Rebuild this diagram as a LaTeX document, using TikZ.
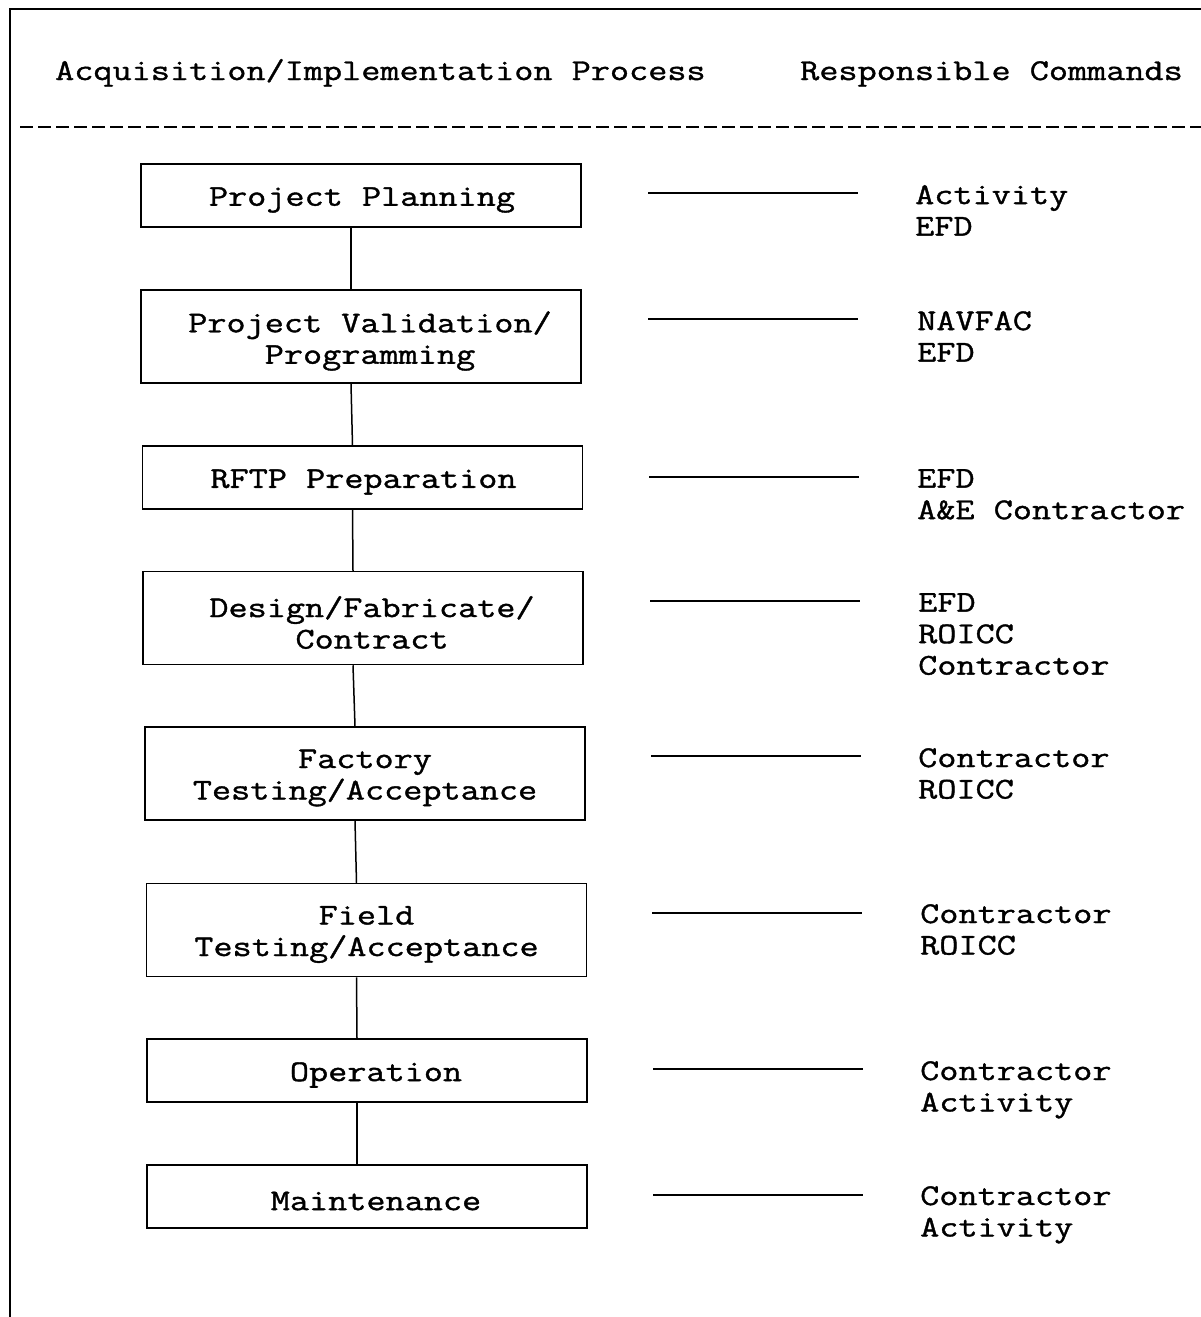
\documentclass[tikz,border=0pt]{standalone}
\usepackage{fontspec}
\newfontfamily\cour[FakeStretch=1.23, FakeBold=1.2]{Latin Modern Mono}
\begin{document}
\begin{tikzpicture}[x=1pt,y=-1pt,
  every node/.style={font=\cour\fontsize{30.2}{31.5}\selectfont, inner sep=0pt},
  procbox/.style={draw, line width=1.5pt, minimum width=440pt},
  onebox/.style={procbox, minimum height=63pt},
  twobox/.style={procbox, minimum height=93pt},
  boxtext/.style n args={2}{label={[align=center, yshift=-4.5pt, xshift=#2]center:{#1}}},
  resp/.style={anchor=north west, align=left},
  link/.style={line width=1.5pt},
  tie/.style={line width=1.5pt}]
\useasboundingbox (0,0) rectangle (1201,1317);
% frame
\draw[line width=2pt] (1201,9) -- (10,9) -- (10,1317);
% header
\node[anchor=base west] (h1) at (55,80) {Acquisition/Implementation Process};
\node[anchor=base west] (h2) at (800,80) {Responsible Commands};
\draw[line width=2.5pt, dash pattern=on 13pt off 5pt] (20,127) -- (1201,127);
% process boxes
\node[onebox, boxtext={Project Planning}{1pt}] (b1) at (361,195.5) {};
\node[twobox, boxtext={Project Validation/\\Programming}{9pt}] (b2) at (361,336.5) {};
\node[onebox, boxtext={RFTP Preparation}{1pt}] (b3) at (362.5,477.5) {};
\node[twobox, boxtext={Design/Fabricate/\\Contract}{9pt}] (b4) at (363,618) {};
\node[twobox, boxtext={Factory\\Testing/Acceptance}{0pt}] (b5) at (365,773.5) {};
\node[twobox, boxtext={Field\\Testing/Acceptance}{0pt}] (b6) at (366.5,930) {};
\node[onebox, boxtext={Operation}{9pt}] (b7) at (367,1070.5) {};
\node[onebox, boxtext={Maintenance}{9pt}] (b8) at (367,1196.5) {};
% connectors
\foreach \a/\b in {b1/b2,b2/b3,b3/b4,b4/b5,b5/b6,b6/b7,b7/b8}
  \draw[link] ([xshift=-10pt]\a.south) -- ([xshift=-10pt]\b.north);
% responsible commands
\node[resp] (r1) at (915,185) {Activity\\EFD};
\node[resp] (r2) at (917,311) {NAVFAC\\EFD};
\node[resp] (r3) at (917,469) {EFD\\A\&E Contractor};
\node[resp] (r4) at (918,593) {EFD\\ROICC\\Contractor};
\node[resp] (r5) at (918,748) {Contractor\\ROICC};
\node[resp] (r6) at (920,904) {Contractor\\ROICC};
\node[resp] (r7) at (920,1061) {Contractor\\Activity};
\node[resp] (r8) at (920,1186) {Contractor\\Activity};
% ties
\coordinate (t1a) at (648,193);  \coordinate (t1b) at (858,193);
\coordinate (t2a) at (648,319);  \coordinate (t2b) at (858,319);
\coordinate (t3a) at (649,477);  \coordinate (t3b) at (859,477);
\coordinate (t4a) at (650,601);  \coordinate (t4b) at (860,601);
\coordinate (t5a) at (651,756);  \coordinate (t5b) at (861,756);
\coordinate (t6a) at (652,913);  \coordinate (t6b) at (862,913);
\coordinate (t7a) at (653,1069); \coordinate (t7b) at (863,1069);
\coordinate (t8a) at (653,1195); \coordinate (t8b) at (863,1195);
\foreach \i in {1,...,8} \draw[tie] (t\i a) -- (t\i b);
\end{tikzpicture}
\end{document}
